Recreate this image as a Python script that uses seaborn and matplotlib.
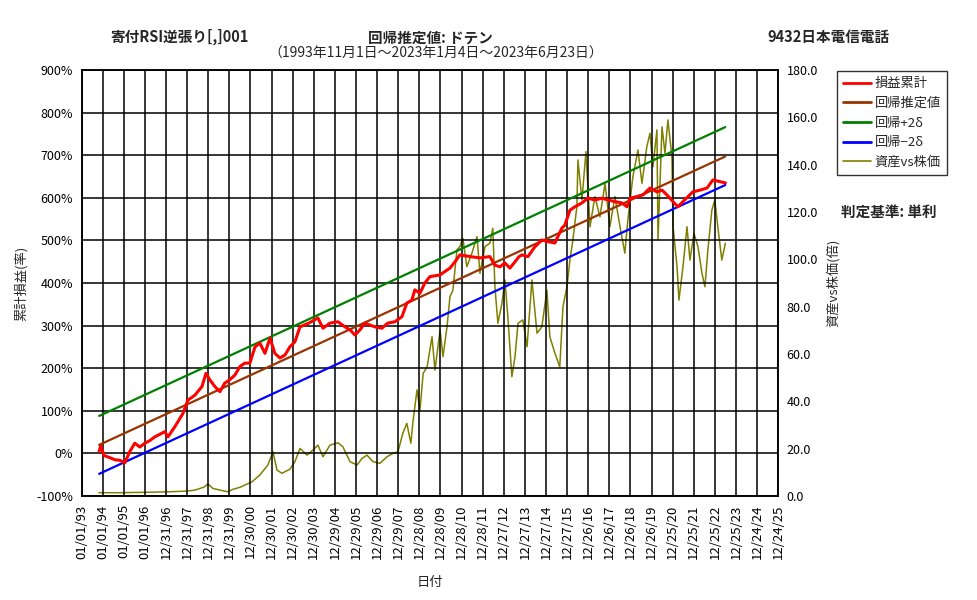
import numpy as np
import pandas as pd
import matplotlib
matplotlib.use("Agg")
import matplotlib.pyplot as plt
from matplotlib.lines import Line2D
import seaborn as sns

# ---- data ----
# cumulative P&L (%), time as decimal years
red_years = [1993.83, 1993.91, 1994.06, 1994.34, 1994.58, 1994.81, 1995.05, 1995.29, 1995.52, 1995.76,
             1996.00, 1996.23, 1996.47, 1996.71, 1996.94, 1997.09, 1997.42, 1997.80, 1998.03, 1998.37,
             1998.70, 1998.89, 1999.07, 1999.31, 1999.55, 1999.78, 2000.02, 2000.26, 2000.50, 2000.73,
             2000.97, 2001.21, 2001.44, 2001.68, 2001.92, 2002.15, 2002.39, 2002.63, 2002.86, 2003.10,
             2003.34, 2003.76, 2004.19, 2004.43, 2004.76, 2005.14, 2005.47, 2005.71, 2005.94, 2006.18,
             2006.41, 2006.89, 2007.22, 2007.50, 2007.83, 2008.17, 2008.40, 2008.64, 2008.78, 2009.02,
             2009.25, 2009.49, 2009.97, 2010.20, 2010.44, 2010.68, 2010.91, 2011.39, 2011.86, 2012.33,
             2012.57, 2012.81, 2013.04, 2013.28, 2013.71, 2013.85, 2014.13, 2014.46, 2014.79, 2015.08,
             2015.41, 2015.74, 2015.88, 2016.12, 2016.36, 2016.69, 2016.97, 2017.30, 2017.64, 2017.92,
             2018.25, 2018.58, 2018.82, 2018.96, 2019.29, 2019.58, 2019.91, 2020.24, 2020.48, 2020.71,
             2021.00, 2021.23, 2021.47, 2021.71, 2021.94, 2022.27, 2022.61, 2022.89, 2023.22, 2023.48]
red_pct = [5, 18, -5, -10, -15, -16, -22, 5, 24, 15,
           24, 30, 39, 45, 51, 39, 63, 94, 125, 137,
           157, 188, 173, 157, 145, 165, 173, 184, 204, 212,
           212, 250, 259, 235, 271, 235, 224, 231, 250, 262,
           297, 306, 318, 294, 306, 309, 297, 290, 278, 290,
           306, 297, 294, 306, 309, 321, 353, 360, 384, 376,
           400, 415, 419, 427, 435, 450, 466, 462, 459, 462,
           442, 438, 447, 435, 462, 466, 462, 485, 501, 497,
           494, 529, 536, 571, 579, 588, 599, 595, 599, 595,
           591, 588, 579, 599, 603, 607, 623, 614, 618, 607,
           591, 579, 591, 603, 614, 618, 623, 642, 638, 635]

# asset vs stock price (right axis)
olive_years = [1993.82, 1994.81, 1996.23, 1997.18, 1997.99, 1998.37, 1998.60, 1998.79, 1998.98, 1999.22,
               1999.55, 1999.93, 2000.16, 2000.50, 2001.07, 2001.44, 2001.82, 2002.06, 2002.25, 2002.48,
               2002.86, 2003.10, 2003.34, 2003.67, 2003.95, 2004.19, 2004.43, 2004.76, 2005.14, 2005.37,
               2005.71, 2006.04, 2006.28, 2006.51, 2006.80, 2007.12, 2007.46, 2007.74, 2007.98, 2008.21,
               2008.40, 2008.59, 2008.69, 2008.88, 2009.02, 2009.17, 2009.36, 2009.59, 2009.73, 2009.97,
               2010.11, 2010.30, 2010.44, 2010.58, 2010.77, 2010.91, 2011.05, 2011.24, 2011.48, 2011.72,
               2011.86, 2012.10, 2012.33, 2012.47, 2012.57, 2012.71, 2012.90, 2013.04, 2013.18, 2013.37,
               2013.52, 2013.66, 2013.89, 2014.09, 2014.32, 2014.56, 2014.79, 2015.03, 2015.17, 2015.41,
               2015.64, 2015.79, 2015.98, 2016.12, 2016.26, 2016.45, 2016.50, 2016.69, 2016.88, 2017.07,
               2017.30, 2017.54, 2017.78, 2018.01, 2018.25, 2018.49, 2018.72, 2018.86, 2019.10, 2019.34,
               2019.53, 2019.76, 2019.91, 2020.05, 2020.24, 2020.29, 2020.48, 2020.62, 2020.76, 2020.95,
               2021.00, 2021.19, 2021.28, 2021.47, 2021.66, 2021.80, 2021.99, 2022.18, 2022.37, 2022.51,
               2022.65, 2022.84, 2022.98, 2023.12, 2023.31, 2023.48]
olive_val = [1.4, 1.4, 1.6, 1.8, 2.1, 2.5, 3.2, 3.7, 5.1, 3.2,
             2.5, 1.8, 2.8, 3.7, 6.0, 8.9, 13.1, 18.7, 11.0, 9.6,
             11.3, 14.5, 20.1, 17.3, 19.4, 21.5, 16.6, 21.5, 22.5, 20.8,
             14.5, 13.1, 15.9, 17.3, 14.5, 13.8, 16.6, 18.0, 18.7, 26.5,
             30.7, 22.3, 31.4, 44.8, 36.3, 51.8, 54.6, 67.3, 53.2, 70.1,
             58.9, 71.5, 84.2, 87.0, 104.0, 105.4, 108.9, 96.9, 102.6, 109.6,
             94.1, 105.4, 106.8, 113.1, 88.4, 73.0, 81.4, 91.3, 75.8, 50.4,
             59.0, 73.0, 74.4, 63.1, 91.3, 68.8, 71.5, 87.0, 67.3, 60.3,
             54.6, 80.0, 88.4, 99.7, 108.2, 122.3, 142.0, 125.1, 145.5, 113.8,
             126.5, 118.0, 132.1, 113.8, 126.5, 113.8, 102.6, 116.6, 134.9, 146.2,
             132.1, 147.6, 153.3, 139.1, 154.7, 108.2, 156.0, 144.8, 158.9, 143.4,
             113.8, 96.9, 82.8, 96.9, 113.8, 99.7, 111.0, 105.4, 94.1, 88.4,
             104.0, 120.9, 125.1, 113.8, 99.7, 106.8]

# regression lines: value at start / end of the period
reg_dates = ["1993-11-01", "2023-06-23"]
reg_est = [20, 697]
reg_plus = [88, 766]
reg_minus = [-48, 630]

tick_labels = ["01/01/93", "01/01/94", "01/01/95", "01/01/96", "12/31/96", "12/31/97", "12/31/98",
               "12/31/99", "12/30/00", "12/30/01", "12/30/02", "12/30/03", "12/29/04", "12/29/05",
               "12/29/06", "12/29/07", "12/28/08", "12/28/09", "12/28/10", "12/28/11", "12/27/12",
               "12/27/13", "12/27/14", "12/27/15", "12/26/16", "12/26/17", "12/26/18", "12/26/19",
               "12/25/20", "12/25/21", "12/25/22", "12/25/23", "12/24/24", "12/24/25"]


def to_date(years):
    return [pd.Timestamp(f"{int(y)}-01-01") + pd.Timedelta(days=(y - int(y)) * 365.25) for y in years]


red_df = pd.DataFrame({"date": to_date(red_years), "pct": red_pct})
olive_df = pd.DataFrame({"date": to_date(olive_years), "val": olive_val})
reg_df = pd.DataFrame({"date": pd.to_datetime(reg_dates), "est": reg_est,
                       "plus": reg_plus, "minus": reg_minus})
tick_dates = pd.to_datetime(tick_labels, format="%m/%d/%y")

sns.set_style("white")
FONT = ["Noto Sans CJK JP", "DejaVu Sans"]
plt.rcParams["font.family"] = FONT

C_RED, C_BROWN, C_GREEN, C_BLUE, C_OLIVE = "#ff0000", "#993300", "#008000", "#0000ff", "#808000"

fig = plt.figure(figsize=(9.77, 6.0), dpi=100)
ax = fig.add_axes([0.0835, 0.1733, 0.7130, 0.7100])
ax2 = ax.twinx()

sns.lineplot(data=olive_df, x="date", y="val", ax=ax2, color=C_OLIVE, lw=1.1)
sns.lineplot(data=reg_df, x="date", y="est", ax=ax, color=C_BROWN, lw=1.6)
sns.lineplot(data=reg_df, x="date", y="plus", ax=ax, color=C_GREEN, lw=1.6)
sns.lineplot(data=reg_df, x="date", y="minus", ax=ax, color=C_BLUE, lw=1.6)
sns.lineplot(data=red_df, x="date", y="pct", ax=ax, color=C_RED, lw=2.2)

# draw the left axis (with red line) above the olive series
ax.set_zorder(ax2.get_zorder() + 1)
ax.patch.set_visible(False)

ax.set_xlim(tick_dates[0], tick_dates[-1])
ax.set_ylim(-100, 900)
ax2.set_ylim(0, 180)
ax.set_xticks(tick_dates)
ax.set_xticklabels(tick_labels, rotation=90, fontsize=9.5)
ax.set_yticks(range(-100, 901, 100))
ax.set_yticklabels([f"{v}%" for v in range(-100, 901, 100)], fontsize=9)
ax.get_yticklabels()[0].set_color("red")
ax2.set_yticks(range(0, 181, 20))
ax2.set_yticklabels([f"{v:.1f}" for v in range(0, 181, 20)], fontsize=9)

ax.grid(True, color="black", lw=1.1)
ax2.grid(False)
for a in (ax, ax2):
    for s in a.spines.values():
        s.set_color("black")
        s.set_linewidth(1.1)
    a.tick_params(length=0, pad=6, colors="black")

ax.set_xlabel("日付", fontsize=9.5, labelpad=12)
ax.set_ylabel("累計損益(率)", fontsize=9.5, labelpad=6)
ax2.set_ylabel("資産vs株価(倍)", fontsize=9.5, labelpad=6)

fig.text(0.184, 0.938, "寄付RSI逆張り[,]001", ha="center", va="center", fontsize=10.5, fontweight="bold")
fig.text(0.441, 0.938, "回帰推定値: ドテン", ha="center", va="center", fontsize=10.5, fontweight="bold")
fig.text(0.848, 0.938, "9432日本電信電話", ha="center", va="center", fontsize=10.5, fontweight="bold")
fig.text(0.446, 0.911, "（1993年11月1日～2023年1月4日～2023年6月23日）", ha="center", va="center",
         fontsize=10)
fig.text(0.910, 0.647, "判定基準: 単利", ha="center", va="center", fontsize=10.5, fontweight="bold")

handles = [Line2D([], [], color=C_RED, lw=2.0), Line2D([], [], color=C_BROWN, lw=2.0),
           Line2D([], [], color=C_GREEN, lw=2.0), Line2D([], [], color=C_BLUE, lw=2.0),
           Line2D([], [], color=C_OLIVE, lw=1.2)]
labels = ["損益累計", "回帰推定値", "回帰+2δ", "回帰−2δ", "資産vs株価"]
leg = fig.legend(handles, labels, loc="upper left", bbox_to_anchor=(0.857, 0.881), fontsize=9.5,
                 frameon=True, fancybox=False, handlelength=2.1, handletextpad=0.3,
                 borderpad=0.45, labelspacing=0.5, borderaxespad=0)
leg.get_frame().set_edgecolor("black")
leg.get_frame().set_linewidth(1.0)

fig.savefig("out.png", dpi=100, facecolor="white")
